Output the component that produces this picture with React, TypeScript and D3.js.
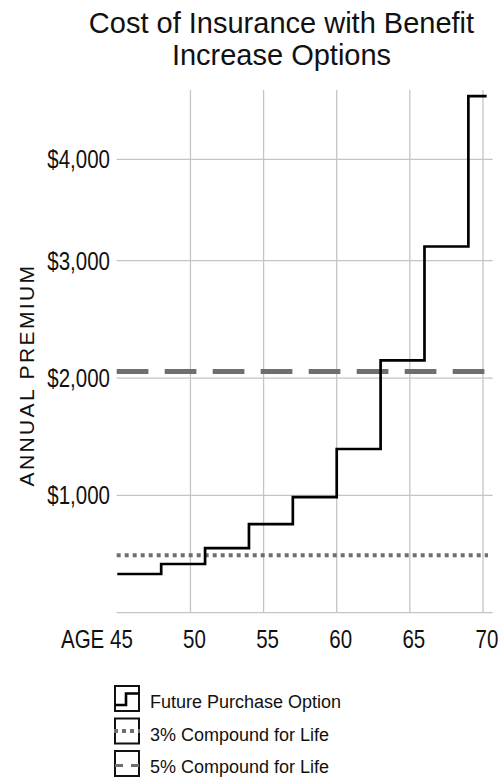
import React from 'react';
import * as d3 from 'd3';

// ages where the future-purchase premium steps up, and the premium after each step
const stepAges = [45, 48, 51, 54, 57, 60, 63, 66, 69];
const futurePurchase = [330, 415, 550, 755, 985, 1395, 2150, 3140, 4620];
const stepEndAge = 70.25;

// level premiums of the compound options
const compound3 = 490;
const compound5 = 2055;

const xTicks = [45, 50, 55, 60, 65, 70];
const yTicks = [1000, 2000, 3000, 4000];

const legendItems = ['Future Purchase Option', '3% Compound for Life', '5% Compound for Life'];

const W = 501;
const H = 778;
const sans = '"Liberation Sans", Arial, Helvetica, sans-serif';
const squeeze = 0.82; // fake a condensed face

const gridColor = '#c4c4c4';
const refColor = '#6e6e6e';

const Narrow: React.FC<{ x: number; y: number; size: number; anchor?: string; dy?: string; children: React.ReactNode }> = ({
  x, y, size, anchor = 'start', dy, children
}) => (
  <text
    transform={`translate(${x},${y}) scale(${squeeze},1)`}
    dy={dy}
    textAnchor={anchor}
    fontFamily={sans}
    fontSize={size}
    fill="#111"
  >
    {children}
  </text>
);

const App: React.FC = () => {
  const x = d3.scaleLinear().domain([45, 70]).range([117.3, 483]);
  // the printed axis is not evenly spaced at the top, so the scale is piecewise
  const y = d3.scaleLinear().domain([0, 3000, 4000, 4700]).range([612.7, 260.7, 159.3, 88]);

  const plotLeft = 116.7;
  const plotRight = 492.7;
  const plotTop = 90;

  const pts: [number, number][] = stepAges.map((a, i) => [a, futurePurchase[i]]);
  pts.push([stepEndAge, futurePurchase[futurePurchase.length - 1]]);
  const line = d3.line<[number, number]>()
    .x(d => x(d[0]))
    .y(d => y(d[1]))
    .curve(d3.curveStepAfter);

  const fmt = (v: number) => '$' + d3.format(',')(v);

  const boxX = 115;
  const boxW = 24;
  const boxH = 25;
  const rowTop = (i: number) => 686 + i * 32.5;

  return (
    <svg width={W} height={H} style={{ position: 'absolute', left: 0, top: 0, background: '#fff' }}>
      {/* title */}
      <text x={281.5} y={33.3} textAnchor="middle" fontFamily={sans} fontSize={29} fill="#111">
        Cost of Insurance with Benefit
      </text>
      <text x={281.5} y={65} textAnchor="middle" fontFamily={sans} fontSize={29} fill="#111">
        Increase Options
      </text>

      {/* vertical grid */}
      {xTicks.filter(t => t !== 45).map(t => (
        <line key={'vx' + t} x1={x(t)} x2={x(t)} y1={plotTop} y2={y(0)} stroke={gridColor} strokeWidth={1.3} />
      ))}
      {/* horizontal grid + baseline */}
      {[0, ...yTicks].map(t => (
        <line key={'hy' + t} x1={plotLeft} x2={plotRight} y1={y(t)} y2={y(t)} stroke={gridColor} strokeWidth={1.3} />
      ))}

      {/* y tick labels */}
      {yTicks.map(t => (
        <Narrow key={'yl' + t} x={110} y={y(t)} dy="0.36em" anchor="end" size={25}>
          {fmt(t)}
        </Narrow>
      ))}

      {/* x tick labels */}
      {xTicks.map(t => (
        <Narrow
          key={'xl' + t}
          x={t === 45 ? x(t) + 15.5 : x(t) + 4}
          y={648.3}
          anchor={t === 45 ? 'end' : 'middle'}
          size={25}
        >
          {t === 45 ? 'AGE 45' : String(t)}
        </Narrow>
      ))}

      {/* y axis title */}
      <text
        transform={`translate(33.5,${375}) rotate(-90)`}
        textAnchor="middle"
        fontFamily={sans}
        fontSize={21}
        letterSpacing={2.4}
        fill="#111"
      >
        ANNUAL PREMIUM
      </text>

      {/* reference lines */}
      <line x1={plotLeft} x2={488} y1={y(compound3)} y2={y(compound3)} stroke={refColor} strokeWidth={4} strokeDasharray="4 4" />
      <line x1={plotLeft} x2={485} y1={y(compound5)} y2={y(compound5)} stroke={refColor} strokeWidth={5} strokeDasharray="31.7 16.3" />

      {/* step series */}
      <path d={line(pts) || ''} fill="none" stroke="#000" strokeWidth={2.7} strokeLinejoin="miter" />

      {/* legend */}
      {legendItems.map((label, i) => {
        const top = rowTop(i);
        const cy = top + boxH / 2;
        return (
          <g key={label}>
            <rect x={boxX} y={top} width={boxW} height={boxH} fill="#fff" stroke="#111" strokeWidth={2} />
            {i === 0 && (
              <path
                d={`M${boxX},${top + 19} H${boxX + 11} V${top + 7.5} H${boxX + boxW}`}
                fill="none"
                stroke="#000"
                strokeWidth={2.6}
              />
            )}
            {i === 1 && (
              <line x1={boxX - 1} x2={boxX + boxW + 1} y1={cy} y2={cy} stroke={refColor} strokeWidth={4} strokeDasharray="4 4" />
            )}
            {i === 2 && (
              <line x1={boxX - 2} x2={boxX + boxW + 2} y1={cy + 2} y2={cy + 2} stroke={refColor} strokeWidth={3} strokeDasharray="8 8" strokeDashoffset={-2} />
            )}
            <text x={150} y={top + 22.3} fontFamily={sans} fontSize={18} fill="#111">
              {label}
            </text>
          </g>
        );
      })}
    </svg>
  );
};

export default App;
